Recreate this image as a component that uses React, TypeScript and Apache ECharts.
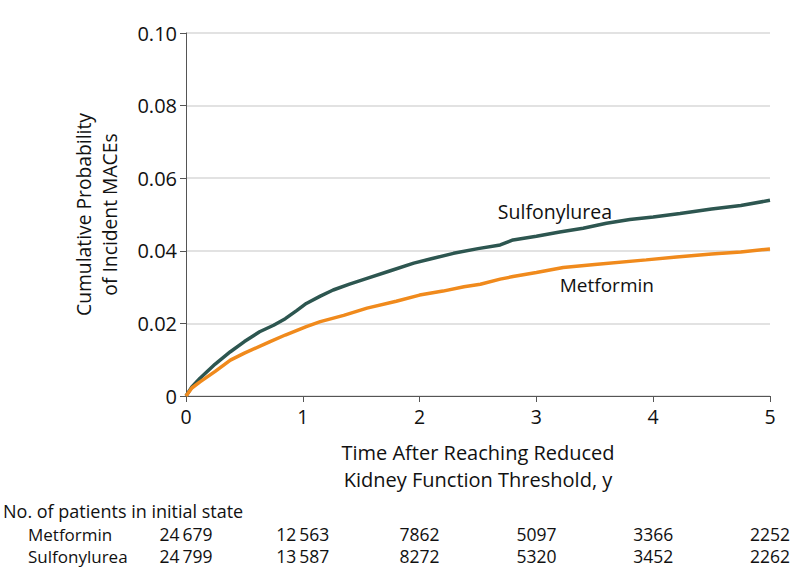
import React, { useEffect, useRef } from "react";
import * as echarts from "echarts";

const sulfTimes = [0, 0.05, 0.12, 0.25, 0.38, 0.5, 0.63, 0.75, 0.85, 0.95, 1.03, 1.15, 1.26, 1.4, 1.55, 1.75, 1.95, 2.1, 2.29, 2.5, 2.69, 2.8, 3.0, 3.2, 3.4, 3.6, 3.8, 4.0, 4.23, 4.5, 4.75, 5.0];
const sulfValues = [0, 0.0025, 0.0049, 0.0088, 0.0122, 0.015, 0.0177, 0.0195, 0.0213, 0.0236, 0.0255, 0.0275, 0.0292, 0.0308, 0.0324, 0.0345, 0.0366, 0.0378, 0.0393, 0.0406, 0.0416, 0.043, 0.044, 0.0452, 0.0462, 0.0476, 0.0486, 0.0493, 0.0503, 0.0515, 0.0525, 0.0539];
const metTimes = [0, 0.05, 0.12, 0.25, 0.38, 0.5, 0.72, 0.85, 1.03, 1.15, 1.35, 1.55, 1.8, 2.0, 2.2, 2.38, 2.52, 2.69, 2.8, 3.0, 3.23, 3.5, 3.94, 4.2, 4.5, 4.75, 5.0];
const metValues = [0, 0.0022, 0.0039, 0.0068, 0.0099, 0.0118, 0.015, 0.0168, 0.0191, 0.0205, 0.0222, 0.0242, 0.0261, 0.0278, 0.0289, 0.0301, 0.0308, 0.0322, 0.0329, 0.034, 0.0354, 0.0362, 0.0375, 0.0383, 0.0391, 0.0397, 0.0405];

const xTicks = [0, 1, 2, 3, 4, 5];
const tableTitle = "No. of patients in initial state";
const groupNames = ["Metformin", "Sulfonylurea"];
const metAtRisk = ["24\u2009679", "12\u2009563", "7862", "5097", "3366", "2252"];
const sulfAtRisk = ["24\u2009799", "13\u2009587", "8272", "5320", "3452", "2262"];

const FONT = "Open Sans";
const GREEN = "#2d5650";
const ORANGE = "#f08a1c";

export default function App() {
  const ref = useRef<HTMLDivElement>(null);
  useEffect(() => {
    const chart = echarts.init(ref.current!, null, { renderer: "svg" });
    const toPairs = (t: number[], v: number[]) => t.map((x, i) => [x, v[i]]);
    chart.setOption({
      animation: false,
      textStyle: { fontFamily: FONT },
      grid: { left: 186, right: 28, top: 33, bottom: 189, containLabel: false },
      xAxis: {
        type: "value",
        min: 0,
        max: 5,
        interval: 1,
        name: "Time After Reaching Reduced\nKidney Function Threshold, y",
        nameLocation: "middle",
        nameGap: 43,
        nameTextStyle: { fontSize: 20, color: "#111", lineHeight: 27, fontFamily: FONT },
        axisLine: { lineStyle: { color: "#555", width: 1 } },
        axisTick: { show: true, length: 6, lineStyle: { color: "#555" } },
        axisLabel: { fontSize: 19.5, color: "#111", margin: 10, fontFamily: FONT },
        splitLine: { show: false },
      },
      yAxis: {
        type: "value",
        min: 0,
        max: 0.1,
        interval: 0.02,
        name: "Cumulative Probability\nof Incident MACEs",
        nameLocation: "middle",
        nameRotate: 90,
        nameGap: 64,
        nameTextStyle: { fontSize: 19.3, color: "#111", lineHeight: 26, fontFamily: FONT },
        axisLine: { show: true, lineStyle: { color: "#555", width: 1 } },
        axisTick: { show: true, length: 6, lineStyle: { color: "#555" } },
        axisLabel: {
          fontSize: 20,
          color: "#111",
          margin: 9,
          fontFamily: FONT,
          formatter: (v: number) => (v === 0 ? "0" : v.toFixed(2)),
        },
        splitLine: { show: true, lineStyle: { color: "#d9d9d9", width: 1.5 } },
      },
      series: [
        {
          name: "Sulfonylurea",
          type: "line",
          data: toPairs(sulfTimes, sulfValues),
          showSymbol: false,
          lineStyle: { color: GREEN, width: 3.5 },
          z: 3,
        },
        {
          name: "Metformin",
          type: "line",
          data: toPairs(metTimes, metValues),
          showSymbol: false,
          lineStyle: { color: ORANGE, width: 3.5 },
          z: 4,
        },
      ],
    });

    const px = (x: number, y: number) => chart.convertToPixel({ gridIndex: 0 }, [x, y]) as number[];
    const sLab = px(2.67, 0.0507);
    const mLab = px(3.2, 0.0306);
    const txt = (text: string, x: number, y: number, size: number, align = "left") => ({
      type: "text",
      x,
      y,
      style: {
        text,
        fontSize: size,
        lineHeight: size,
        fontFamily: FONT,
        fill: "#111",
        textAlign: align,
        textVerticalAlign: "middle",
      },
    });
    const elements: any[] = [
      txt("Sulfonylurea", sLab[0], sLab[1], 19.5),
      txt("Metformin", mLab[0], mLab[1], 19),
      txt(tableTitle, 3, 511, 18),
      txt(groupNames[0], 28, 534, 17),
      txt(groupNames[1], 28, 556, 17),
    ];
    xTicks.forEach((t, i) => {
      const p = px(t, 0);
      elements.push(txt(metAtRisk[i], p[0], 534, 17.5, "center"));
      elements.push(txt(sulfAtRisk[i], p[0], 556, 17.5, "center"));
    });
    chart.setOption({ graphic: elements });
    return () => chart.dispose();
  }, []);
  return (
    <div
      ref={ref}
      style={{ position: "absolute", left: 0, top: 0, width: 798, height: 585, background: "#fff" }}
    />
  );
}
